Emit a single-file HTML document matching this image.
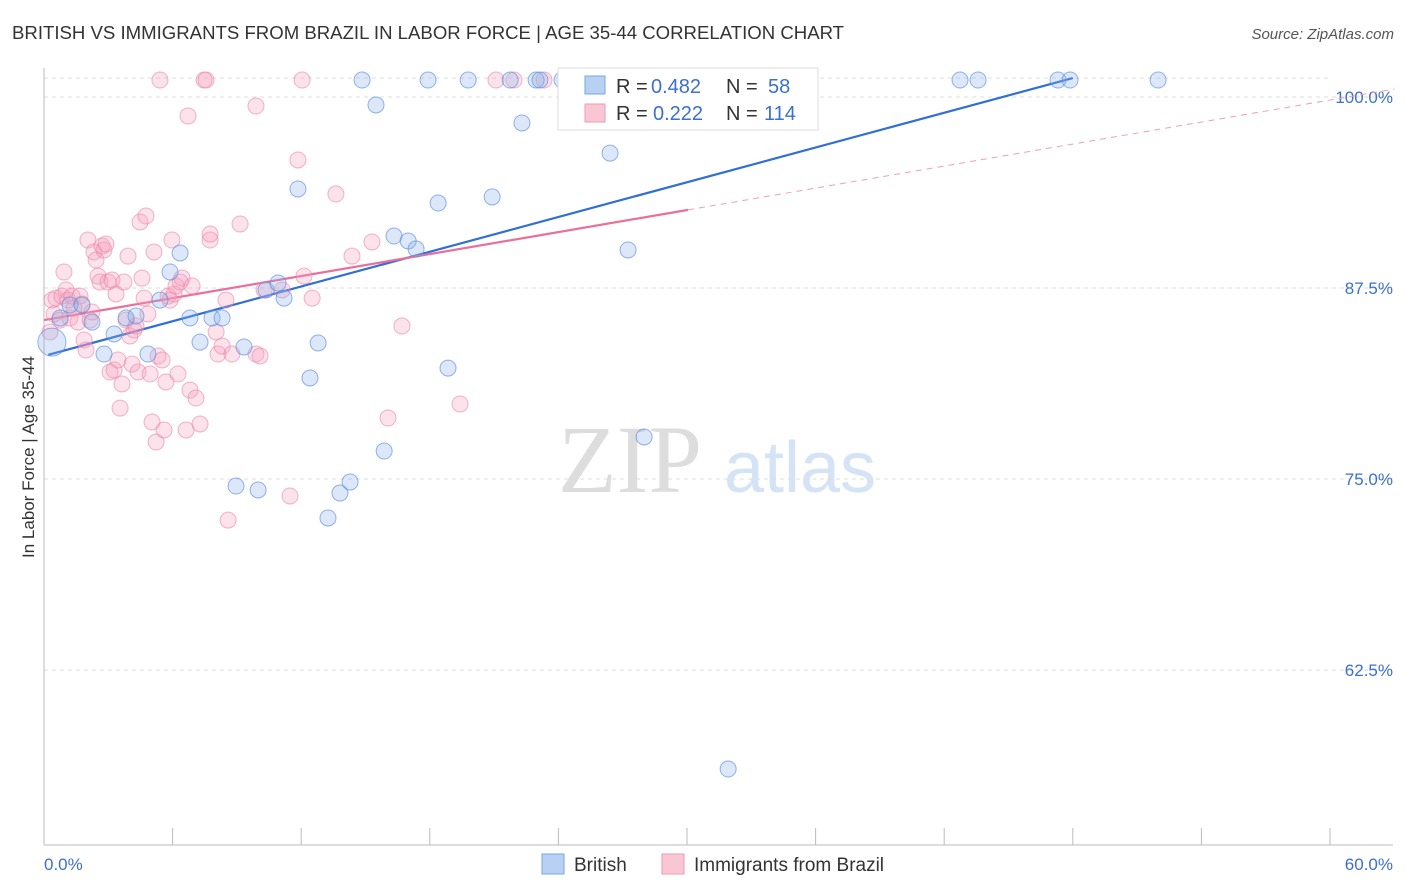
<!DOCTYPE html>
<html><head><meta charset="utf-8">
<style>
body{margin:0;background:#fff;font-family:"Liberation Sans",sans-serif;}
svg{display:block}
</style></head>
<body>
<svg id="chart" width="1406" height="892" xmlns="http://www.w3.org/2000/svg">
<text x="12" y="39" font-size="18.6" fill="#333">BRITISH VS IMMIGRANTS FROM BRAZIL IN LABOR FORCE | AGE 35-44 CORRELATION CHART</text>
<text x="1394" y="39" font-size="15" fill="#555" font-style="italic" text-anchor="end">Source: ZipAtlas.com</text>
<text x="630" y="492" font-size="96" fill="#ddd" font-family="Liberation Serif,serif" text-anchor="middle">ZIP</text>
<text x="800" y="492" font-size="72" fill="#d4e3f5" text-anchor="middle">atlas</text>
<text transform="translate(34,457) rotate(-90)" font-size="17" fill="#333" text-anchor="middle">In Labor Force | Age 35-44</text>
<g id="grid"></g><g id="axes"></g><g id="trend"></g><g id="pts"></g>
<g>
<rect x="558" y="68" width="260" height="62" fill="#fff" stroke="#ddd"/>
<rect x="585" y="76" width="20" height="18" fill="#b8d0f2" stroke="#7aa6e4"/>
<rect x="585" y="104" width="20" height="18" fill="#f9c6d4" stroke="#ee9ab3"/>
<text y="93" font-size="20"><tspan x="616" fill="#333">R = </tspan><tspan x="651" fill="#3b6fd0">0.482</tspan><tspan x="726" fill="#333">N = </tspan><tspan x="768" fill="#3b6fd0">58</tspan></text>
<text y="120" font-size="20"><tspan x="616" fill="#333">R = </tspan><tspan x="653" fill="#3b6fd0">0.222</tspan><tspan x="726" fill="#333">N = </tspan><tspan x="764" fill="#3b6fd0">114</tspan></text>
</g>
<g>
<rect x="542" y="854" width="22" height="20" fill="#b8d0f2" stroke="#7aa6e4"/>
<text x="574" y="871" font-size="19" fill="#333">British</text>
<rect x="662" y="854" width="22" height="20" fill="#f9c6d4" stroke="#ee9ab3"/>
<text x="694" y="871" font-size="19" fill="#333">Immigrants from Brazil</text>
</g>
</svg>
<script>
const yTicks=[100,87.5,75,62.5];
const yTickLabels=["100.0%","87.5%","75.0%","62.5%"];
const xTicks=[0,6,12,18,24,30,36,42,48,54,60];
const britishX=[0.37,0.75,1.21,1.77,2.24,2.80,3.27,3.83,4.29,4.85,5.41,5.88,6.35,6.81,7.28,7.84,8.31,8.96,9.33,9.99,10.36,10.92,11.20,11.85,12.41,12.79,13.25,13.81,14.28,14.84,15.49,15.87,16.33,16.99,17.36,17.92,18.39,18.85,19.79,20.91,21.75,22.30,22.96,23.14,24.17,25.01,26.41,27.25,28.00,29.86,31.08,31.92,42.74,43.58,47.31,47.87,51.98];
const britishY=[83.96,85.54,86.39,86.39,85.27,83.18,84.49,85.54,85.67,83.18,86.71,88.55,89.79,85.54,83.96,85.54,85.54,74.54,83.64,74.28,87.37,87.83,86.84,93.98,81.61,83.90,72.45,74.08,74.80,101.11,99.48,76.83,90.90,90.58,90.05,101.11,93.06,82.26,101.11,93.46,101.11,98.30,101.11,101.11,101.11,101.11,96.33,89.99,77.75,101.11,101.11,56.02,101.11,101.11,101.11,101.11,101.11];
const brazilX=[0.28,0.37,0.47,0.56,0.75,0.84,0.93,1.03,1.12,1.21,1.31,1.40,1.59,1.68,1.77,1.87,1.96,2.05,2.15,2.24,2.33,2.43,2.52,2.61,2.71,2.80,2.89,2.99,3.08,3.17,3.27,3.36,3.45,3.55,3.64,3.73,3.83,3.92,4.01,4.11,4.20,4.29,4.39,4.48,4.57,4.67,4.76,4.85,4.95,5.04,5.13,5.23,5.32,5.41,5.51,5.60,5.69,5.79,5.88,5.97,6.07,6.16,6.25,6.35,6.44,6.63,6.72,6.81,6.91,7.09,7.28,7.47,7.56,7.75,7.75,8.03,8.12,8.31,8.49,8.59,8.77,9.15,9.89,9.89,10.08,10.27,11.11,11.48,11.85,12.04,12.13,12.51,13.62,14.37,15.30,16.05,16.70,19.41,21.09,21.93,23.33,24.73];
const brazilY=[84.62,86.71,85.80,86.84,85.40,86.97,88.55,87.37,86.71,85.54,86.97,86.19,85.27,86.97,86.45,84.10,83.44,90.64,85.40,85.93,89.86,89.33,88.28,87.89,90.25,89.99,90.38,87.89,82.00,88.02,82.13,87.11,82.79,79.64,81.22,87.89,85.40,89.59,84.36,82.52,84.75,85.01,82.00,91.82,88.15,86.84,92.21,85.80,81.87,78.73,89.86,77.42,83.05,101.11,82.79,78.21,81.35,86.97,86.71,90.64,87.11,87.63,81.87,87.89,88.15,78.21,98.76,80.82,87.63,80.30,78.60,101.11,101.11,90.64,91.03,84.62,83.18,83.70,86.71,72.31,83.18,91.69,99.41,83.18,83.05,87.37,87.37,73.89,95.88,101.11,88.28,86.84,93.65,89.59,90.51,78.99,85.01,79.91,101.11,101.11,101.11,101.11];
const britishTrend=[83.05,0.379,0.2,48];
const brazilTrend=[85.4,0.24,0,30.05,63];

const NS="http://www.w3.org/2000/svg";
const sx=v=>44+v/60*1286;
const sy=v=>97+(100-v)/12.5*191;
function mk(tag,attrs,parent){const e=document.createElementNS(NS,tag);for(const k in attrs)e.setAttribute(k,attrs[k]);parent.appendChild(e);return e;}
const grid=document.getElementById('grid'),axes=document.getElementById('axes'),trend=document.getElementById('trend'),pts=document.getElementById('pts');
yTicks.forEach((t,i)=>{
 const l=mk('line',{x1:44,x2:1393,y1:sy(t),y2:sy(t),stroke:'#ddd','stroke-dasharray':'4,4'},grid);
 
 
 const tx=mk('text',{x:1393,y:sy(t)+6,'font-size':17,fill:'#3b6fd0','text-anchor':'end'},axes);
 tx.textContent=yTickLabels[i];
 
 
});
const tl=mk('line',{x1:44,x2:1330,y1:78,y2:78,stroke:'#ddd','stroke-dasharray':'4,4'},grid);


const ya=mk('line',{x1:44,x2:44,y1:68,y2:845,stroke:'#bbb'},axes);


const xa=mk('line',{x1:44,x2:1393,y1:845,y2:845,stroke:'#bbb'},axes);


xTicks.forEach(t=>{
 const l=mk('line',{x1:sx(t),x2:sx(t),y1:828,y2:845,stroke:'#bbb'},axes);
 
 
});
const x0=mk('text',{x:44,y:870,'font-size':17,fill:'#3b6fd0'},axes);x0.textContent='0.0%';


const x1=mk('text',{x:1393,y:870,'font-size':17,fill:'#3b6fd0','text-anchor':'end'},axes);x1.textContent='60.0%';



brazilX.forEach((x,i)=>{
 const c=mk('circle',{cx:sx(x),cy:sy(brazilY[i]),r:8,fill:'rgba(246,160,188,0.3)',stroke:'rgba(236,130,165,0.6)'},pts);
 
 
});
britishX.forEach((x,i)=>{
 const c=mk('circle',{cx:sx(x),cy:sy(britishY[i]),r:i===0?14:8,fill:'rgba(140,180,235,0.3)',stroke:'rgba(90,140,220,0.65)'},pts);
 
 
});
const [bi,bs,bx0,bx1]=britishTrend;
const bl=mk('line',{x1:sx(bx0),y1:sy(bi+bs*bx0),x2:sx(bx1),y2:sy(bi+bs*bx1),stroke:'#2f6fd6','stroke-width':2.2},trend);


const [pi,ps,px0,px1,px2]=brazilTrend;
const pl=mk('line',{x1:sx(px0),y1:sy(pi+ps*px0),x2:sx(px1),y2:sy(pi+ps*px1),stroke:'#e8709a','stroke-width':2.2},trend);


const pd=mk('line',{x1:sx(px1),y1:sy(pi+ps*px1),x2:sx(px2),y2:sy(pi+ps*px2),stroke:'#eaa0ba','stroke-width':1,'stroke-dasharray':'6,5'},trend);


</script>
</body></html>
